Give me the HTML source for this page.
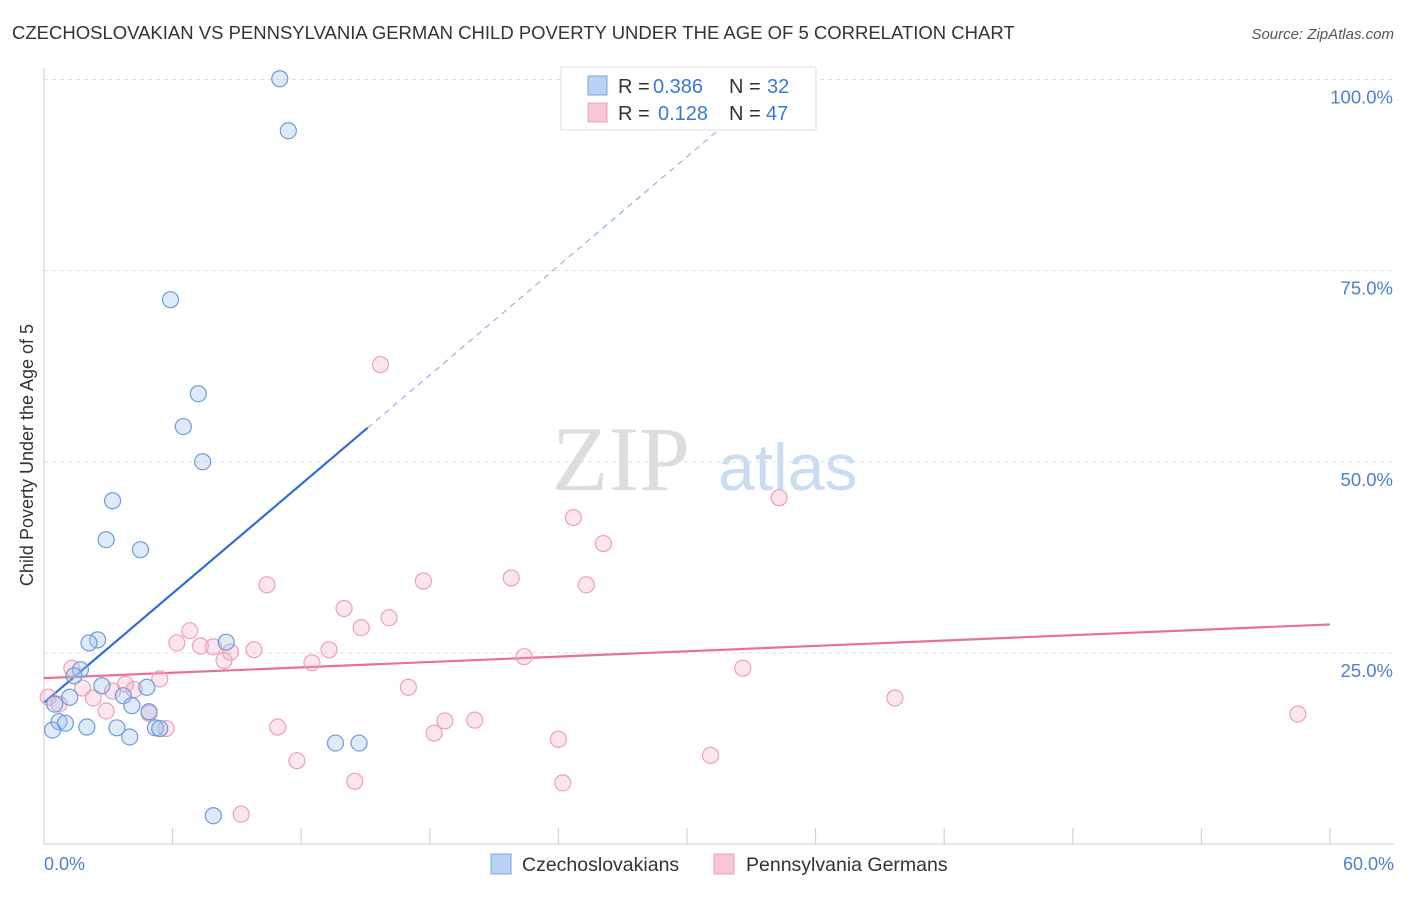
<!DOCTYPE html>
<html><head><meta charset="utf-8"><style>
body{margin:0;background:#fff;font-family:"Liberation Sans",sans-serif;}
</style></head><body>
<svg width="1406" height="892" viewBox="0 0 1406 892" xmlns="http://www.w3.org/2000/svg" font-family="Liberation Sans, sans-serif">
<text x="12" y="39" font-size="18.5" fill="#333">CZECHOSLOVAKIAN VS PENNSYLVANIA GERMAN CHILD POVERTY UNDER THE AGE OF 5 CORRELATION CHART</text>
<text x="1394" y="39" font-size="15" fill="#555" font-style="italic" text-anchor="end">Source: ZipAtlas.com</text>
<text x="552" y="490" font-size="92" fill="#ddd" font-family="Liberation Serif, serif">ZIP</text>
<text x="718" y="490" font-size="66" fill="#c9dcf2">atlas</text>
<g id="grid"></g>
<g id="ticks"></g>
<line x1="44" y1="68" x2="44" y2="844" stroke="#ccc"/>
<line x1="44" y1="844" x2="1394" y2="844" stroke="#ccc"/>
<text x="33" y="455" font-size="18" fill="#333" text-anchor="middle" transform="rotate(-90 33 455)">Child Poverty Under the Age of 5</text>
<text x="44" y="870" font-size="18" fill="#4a7fd4">0.0%</text>
<text x="1394" y="870" font-size="18" fill="#4a7fd4" text-anchor="end">60.0%</text>
<g id="lines"></g>
<g id="pts"></g>
<g>
<rect x="561" y="67" width="255" height="63" fill="#fff" stroke="#ddd"/>
<rect x="588" y="76" width="19" height="19" fill="#b9d3f5" stroke="#7aa6e0"/>
<rect x="588" y="103" width="19" height="19" fill="#f9c6d6" stroke="#e9a0b8"/>
<text x="618" y="93" font-size="20" fill="#333">R =</text>
<text x="653" y="93" font-size="20" fill="#3a78d8">0.386</text>
<text x="729" y="93" font-size="20" fill="#333">N =</text>
<text x="767" y="93" font-size="20" fill="#3a78d8">32</text>
<text x="618" y="120" font-size="20" fill="#333">R =</text>
<text x="658" y="120" font-size="20" fill="#3a78d8">0.128</text>
<text x="729" y="120" font-size="20" fill="#333">N =</text>
<text x="766" y="120" font-size="20" fill="#3a78d8">47</text>
</g>
<g>
<rect x="491" y="854" width="20" height="20" fill="#b9d3f5" stroke="#7aa6e0"/>
<text x="522" y="871" font-size="19.5" fill="#333">Czechoslovakians</text>
<rect x="714" y="854" width="20" height="20" fill="#f9c6d6" stroke="#e9a0b8"/>
<text x="746" y="871" font-size="19.5" fill="#333">Pennsylvania Germans</text>
</g>
</svg>
<script>
const yTicks=[25,50,75,100];
const yTickLabels=["25.0%","50.0%","75.0%","100.0%"];
const xTicks=[0,6,12,18,24,30,36,42,48,54,60];
const blueX=[11.0,11.4,5.9,7.2,6.5,7.4,3.2,2.9,4.5,2.5,2.1,8.5,1.7,1.4,2.7,4.8,1.2,3.7,0.5,4.1,4.9,0.7,1.0,2.0,3.4,5.2,5.4,0.4,4.0,13.6,14.7,7.9];
const blueY=[100.1,93.3,71.2,58.9,54.6,50.0,44.9,39.8,38.5,26.7,26.3,26.4,22.8,22.0,20.7,20.5,19.2,19.4,18.3,18.1,17.3,16.0,15.8,15.3,15.2,15.2,15.1,14.9,14.0,13.2,13.2,3.7];
const pinkX=[15.7,34.3,24.7,26.1,10.4,17.7,21.8,25.3,14.0,16.1,14.8,6.8,6.2,7.3,7.9,9.8,8.7,13.3,8.4,12.5,22.4,32.6,1.3,5.4,3.8,4.2,3.2,1.8,17.0,0.2,2.3,0.7,39.7,2.9,4.9,58.5,5.7,10.9,18.7,20.1,18.2,24.0,31.1,11.8,14.5,24.2,9.2];
const pinkY=[62.7,45.3,42.7,39.3,33.9,34.4,34.8,33.9,30.8,29.6,28.3,27.9,26.3,25.9,25.8,25.4,25.1,25.4,24.0,23.7,24.5,23.0,23.0,21.6,20.9,20.2,20.0,20.4,20.5,19.2,19.1,18.3,19.1,17.4,17.1,17.0,15.1,15.3,16.1,16.2,14.5,13.7,11.6,10.9,8.2,8.0,3.9];
const blueFit=[18.5,2.38];
const pinkFit=[21.7,0.117];
const NS="http://www.w3.org/2000/svg";
const sx=v=>44+v*21.433, sy=v=>844-v*7.645;
function mk(t,a,p){const e=document.createElementNS(NS,t);for(const k in a)e.setAttribute(k,a[k]);p.appendChild(e);return e;}
const grid=document.getElementById('grid');
yTicks.forEach((t,i)=>{
 const l=mk('line',{x1:44,x2:1394,y1:sy(t),y2:sy(t),stroke:'#ddd','stroke-dasharray':'4,4'},grid);
 
 
 const tx=mk('text',{x:1393,y:sy(t)+24,'font-size':18.5,fill:'#4a7fd4','text-anchor':'end'},grid);
 tx.textContent=yTickLabels[i];
 
 
});
const tk=document.getElementById('ticks');
xTicks.forEach(t=>{
 const l=mk('line',{x1:sx(t),x2:sx(t),y1:828,y2:844,stroke:'#ccc'},tk);
 
 
});
const ln=document.getElementById('lines');
const xEnd=(100-blueFit[0])/blueFit[1];
let b1=mk('line',{x1:sx(0),y1:sy(blueFit[0]),x2:sx(15.1),y2:sy(blueFit[0]+blueFit[1]*15.1),stroke:'#2e6fd6','stroke-width':2.2},ln);


let b2=mk('line',{x1:sx(15.1),y1:sy(blueFit[0]+blueFit[1]*15.1),x2:sx(xEnd),y2:sy(100),stroke:'#8fb3e8','stroke-width':1.2,'stroke-dasharray':'6,5'},ln);


let p1=mk('line',{x1:sx(0),y1:sy(pinkFit[0]),x2:sx(60),y2:sy(pinkFit[0]+pinkFit[1]*60),stroke:'#e8709a','stroke-width':2.2},ln);


const pts=document.getElementById('pts');
pinkX.forEach((x,i)=>{
 const c=mk('circle',{cx:sx(x),cy:sy(pinkY[i]),r:8,fill:'rgba(244,170,195,0.3)',stroke:'#eba0b9','stroke-width':1.2},pts);
 
 
});
blueX.forEach((x,i)=>{
 const c=mk('circle',{cx:sx(x),cy:sy(blueY[i]),r:8,fill:'rgba(160,195,240,0.35)',stroke:'#6e9bd9','stroke-width':1.2},pts);
 
 
});
</script>
</body></html>
